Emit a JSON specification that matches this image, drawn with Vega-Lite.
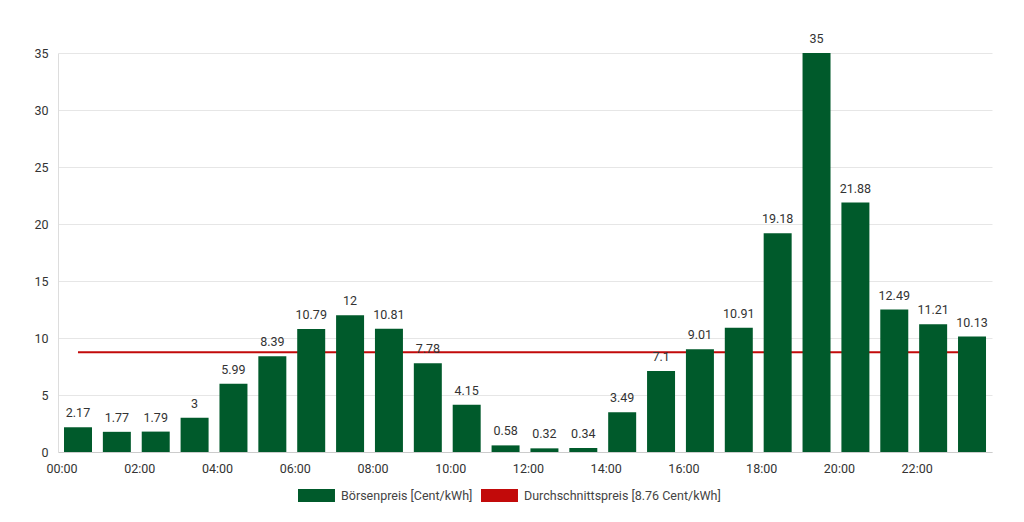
{
  "$schema": "https://vega.github.io/schema/vega-lite/v6.json",
  "width": 934,
  "height": 399,
  "autosize": {"type": "none"},
  "padding": {"left": 58, "top": 53, "right": 32, "bottom": 70},
  "background": "#ffffff",
  "config": {
    "font": "Roboto",
    "view": {"stroke": null},
    "axis": {"labelFont": "Roboto", "labelFontSize": 12.5, "labelColor": "#333333", "ticks": false, "domainColor": "#d6d6d6", "gridColor": "#e6e6e6"},
    "legend": {"labelFont": "Roboto", "labelFontSize": 12.5, "labelColor": "#444444", "labelLimit": 400}
  },
  "data": {
    "values": [
      {"hour": "00:00", "price": 2.17, "avg": 8.76},
      {"hour": "01:00", "price": 1.77, "avg": 8.76},
      {"hour": "02:00", "price": 1.79, "avg": 8.76},
      {"hour": "03:00", "price": 3, "avg": 8.76},
      {"hour": "04:00", "price": 5.99, "avg": 8.76},
      {"hour": "05:00", "price": 8.39, "avg": 8.76},
      {"hour": "06:00", "price": 10.79, "avg": 8.76},
      {"hour": "07:00", "price": 12, "avg": 8.76},
      {"hour": "08:00", "price": 10.81, "avg": 8.76},
      {"hour": "09:00", "price": 7.78, "avg": 8.76},
      {"hour": "10:00", "price": 4.15, "avg": 8.76},
      {"hour": "11:00", "price": 0.58, "avg": 8.76},
      {"hour": "12:00", "price": 0.32, "avg": 8.76},
      {"hour": "13:00", "price": 0.34, "avg": 8.76},
      {"hour": "14:00", "price": 3.49, "avg": 8.76},
      {"hour": "15:00", "price": 7.1, "avg": 8.76},
      {"hour": "16:00", "price": 9.01, "avg": 8.76},
      {"hour": "17:00", "price": 10.91, "avg": 8.76},
      {"hour": "18:00", "price": 19.18, "avg": 8.76},
      {"hour": "19:00", "price": 35, "avg": 8.76},
      {"hour": "20:00", "price": 21.88, "avg": 8.76},
      {"hour": "21:00", "price": 12.49, "avg": 8.76},
      {"hour": "22:00", "price": 11.21, "avg": 8.76},
      {"hour": "23:00", "price": 10.13, "avg": 8.76}
    ]
  },
  "encoding": {
    "x": {
      "field": "hour",
      "type": "ordinal",
      "title": null,
      "scale": {"paddingInner": 0.28, "paddingOuter": 0.154},
      "axis": {
        "values": ["00:00", "02:00", "04:00", "06:00", "08:00", "10:00", "12:00", "14:00", "16:00", "18:00", "20:00", "22:00"],
        "labelAngle": 0,
        "labelPadding": 10,
        "labelOffset": -16,
        "grid": false,
        "domainColor": "#cccccc"
      }
    }
  },
  "layer": [
    {
      "mark": {"type": "line", "strokeWidth": 2},
      "encoding": {
        "y": {"field": "avg", "type": "quantitative", "title": null, "scale": {"domain": [0, 35]}},
        "color": {
          "datum": "Durchschnittspreis [8.76 Cent/kWh]",
          "type": "nominal",
          "scale": {
            "domain": ["Börsenpreis [Cent/kWh]", "Durchschnittspreis [8.76 Cent/kWh]"],
            "range": ["#005a2b", "#c20a0a"]
          },
          "legend": {
            "title": null,
            "orient": "none",
            "legendX": 240,
            "legendY": 436,
            "direction": "horizontal",
            "symbolType": "M-1,-1H4.69V1H-1Z",
            "symbolSize": 169,
            "symbolStrokeWidth": 0,
            "labelOffset": 30,
            "columnPadding": 8,
            "encode": {
              "symbols": {"update": {"fill": {"scale": "color", "field": "value"}, "fillOpacity": {"value": 1}, "strokeWidth": {"value": 0}}}
            }
          }
        }
      }
    },
    {
      "mark": {"type": "bar"},
      "encoding": {
        "y": {
          "field": "price",
          "type": "quantitative",
          "title": null,
          "scale": {"domain": [0, 35]},
          "axis": {"values": [0, 5, 10, 15, 20, 25, 30, 35], "labelPadding": 10, "grid": true, "domain": true, "domainColor": "#dddddd"}
        },
        "color": {"datum": "Börsenpreis [Cent/kWh]", "type": "nominal"}
      }
    },
    {
      "mark": {"type": "text", "baseline": "alphabetic", "dy": -10, "fontSize": 12.5, "color": "#333333", "font": "Roboto"},
      "encoding": {
        "y": {"field": "price", "type": "quantitative", "title": null},
        "text": {"field": "price", "type": "quantitative", "format": "~g"}
      }
    }
  ]
}
